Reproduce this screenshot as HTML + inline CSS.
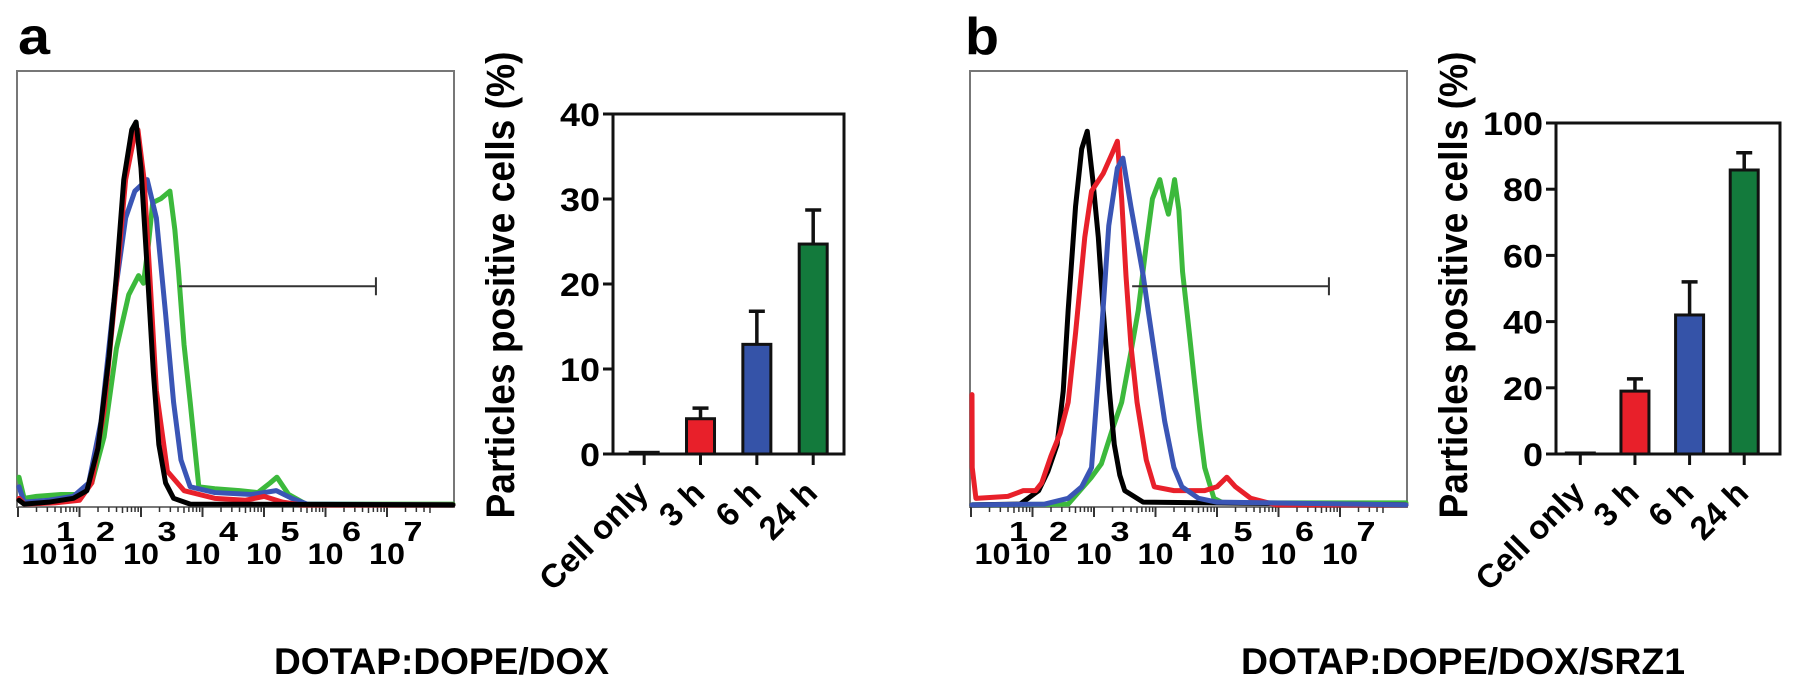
<!DOCTYPE html>
<html><head><meta charset="utf-8"><style>
html,body{margin:0;padding:0;background:#fff;}
svg{display:block;font-family:"Liberation Sans",Arial,sans-serif;}
</style></head><body>
<svg id="fig" width="1795" height="697" viewBox="0 0 1795 697" xmlns="http://www.w3.org/2000/svg">
<rect width="1795" height="697" fill="#fff"/>
<g id="root"></g>
</svg>
<script>
// ---------- data ----------
const histBlackA = [[0.98,1.5],[1.1,0.5],[1.5,1],[1.9,2],[2.12,4],[2.3,15],[2.48,39],[2.6,60],[2.72,85],[2.85,98],[2.92,100],[3.0,88],[3.1,62],[3.2,35],[3.29,16],[3.4,6],[3.53,2],[3.8,0.5],[8.1,0.3]];
const histRedA = [[0.98,2],[1.1,0.5],[1.6,0.8],[2.0,1.5],[2.2,6],[2.4,25],[2.6,58],[2.75,85],[2.9,97],[2.95,98],[3.05,85],[3.15,58],[3.25,30],[3.43,9],[3.7,4],[4.2,2],[4.7,1.5],[5.0,2.5],[5.3,1],[5.6,0.3],[8.1,0.3]];
const histBlueA = [[0.98,5],[1.1,1],[1.5,1.5],[1.9,2.5],[2.15,6],[2.35,22],[2.55,52],[2.75,75],[2.9,82],[3.1,85],[3.25,75],[3.4,50],[3.53,27],[3.65,12],[3.8,5],[4.2,3.5],[4.8,3],[5.2,4],[5.45,2],[5.7,0.5],[8.1,0.3]];
const histGreenA = [[0.98,7.5],[1.1,2],[1.3,2.5],[1.7,3],[2.0,3],[2.2,6],[2.4,18],[2.6,41],[2.8,55],[2.96,60],[3.04,58],[3.12,68],[3.19,79],[3.32,80],[3.47,82],[3.55,72],[3.61,61],[3.7,42],[3.8,27],[3.94,5],[4.2,4.5],[4.6,4],[4.9,3.5],[5.1,6],[5.21,7.5],[5.4,3],[5.68,0.5],[8.1,0.5]];
const histBlackB = [[0.98,0.3],[1.8,0.5],[2.1,4],[2.25,9],[2.4,16],[2.5,30],[2.58,51],[2.7,78],[2.8,93],[2.89,97.6],[2.98,85],[3.07,70],[3.15,51],[3.25,30],[3.33,16],[3.42,8],[3.5,4],[3.8,1],[8.1,0.3]];
const histRedB = [[0.98,29],[1.02,10],[1.08,2],[1.6,2.5],[1.85,4],[2.05,4],[2.15,6],[2.3,13],[2.45,19],[2.58,27],[2.7,45],[2.85,70],[2.96,82],[3.15,86.6],[3.3,92],[3.38,95],[3.45,80],[3.52,60],[3.6,42],[3.7,27],[3.85,12],[3.98,5],[4.3,4],[4.8,4],[5.0,5],[5.16,7.5],[5.3,5],[5.55,2],[5.96,0.3],[8.1,0.3]];
const histBlueB = [[0.98,0.3],[2.2,0.5],[2.58,2],[2.8,5],[2.96,10],[3.1,40],[3.24,73],[3.38,88],[3.47,90.6],[3.6,78],[3.7,69],[3.8,60],[3.88,51],[4.0,38],[4.15,22],[4.3,10],[4.43,5],[4.7,2],[5.0,1],[8.1,0.3]];
const histGreenB = [[0.98,0.3],[2.58,0.5],[2.96,7.5],[3.12,11],[3.3,20],[3.45,27],[3.6,40],[3.72,51],[3.85,68],[3.95,80],[4.07,85],[4.14,80],[4.21,76],[4.28,82],[4.31,85],[4.38,77],[4.44,61],[4.55,45],[4.63,33],[4.72,20],[4.8,10],[4.95,2],[5.1,0.8],[8.1,0.8]];
const decadeLabelVals = [1.35,2,3,4,5,6,7];
const decadeExps = ["1","2","3","4","5","6","7"];
const gateRange = [3.62,6.82];
const gateLevel = 57.5;

const barCategories = ["Cell only","3 h","6 h","24 h"];
const barValuesA = [0.2,4.15,12.9,24.7];
const barErrA = [0,1.25,3.9,4.0];
const barValuesB = [0.3,19,42,85.8];
const barErrB = [0,3.7,10,5.2];
const barTicksA = [0,10,20,30,40];
const barTicksB = [0,20,40,60,80,100];
const barColors = ["#ffffff","#e8202a","#3553a8","#137a3c"];

// ---------- helpers ----------
const NS="http://www.w3.org/2000/svg";
const root=document.getElementById('root');
function mk(tag,attrs,parent){const e=document.createElementNS(NS,tag);for(const k in attrs)e.setAttribute(k,attrs[k]);(parent||root).appendChild(e);return e;}

function drawHist(ox, curves, panel){
  const g=mk('g',{});
  
  
  const L=ox+17,R=ox+454,T=71,B=507;
  const xs=v=>ox+141+61.5*(v-3);
  const ys=c=>B-c*3.84;
  const fr=mk('rect',{x:L,y:T,width:R-L,height:B-T,fill:'none',stroke:'#777','stroke-width':2},g);
  
  
  for(let k=1;k<=8;k++){
    for(let m=1;m<=9;m++){
      const v=k+Math.log10(m); const x=xs(v);
      if(x<L||x>R-20) continue;
      const len=m===1?10:(m===5?6:5);
      const t=mk('line',{x1:x,y1:B,x2:x,y2:B+len,stroke:'#333','stroke-width':m===1?2:1.5},g);
      
      
    }
  }
  curves.forEach(c=>{
    const pts=c.data.map(p=>[Math.max(L+2,Math.min(R-1,xs(p[0]))),ys(p[1])-1].join(',')).join(' ');
    const pl=mk('polyline',{points:pts,fill:'none',stroke:c.color,'stroke-width':5,'stroke-linejoin':'round','stroke-linecap':'round'},g);
    
    
  });
  const gy=ys(gateLevel), gx1=xs(gateRange[0]), gx2=xs(gateRange[1]);
  const gl=mk('path',{d:`M${gx1},${gy}H${gx2}M${gx2},${gy-9}V${gy+9}`,stroke:'#333','stroke-width':2,fill:'none'},g);
  
  
  decadeLabelVals.forEach((v,i)=>{
    const x=xs(v);
    const t=mk('text',{x:x,y:564,'font-size':30,'font-weight':'bold','text-anchor':'middle',textLength:36,lengthAdjust:'spacingAndGlyphs'},g);
    t.textContent='10';
    
    
    const e=mk('text',{x:x+26,y:541,'font-size':28,'font-weight':'bold','text-anchor':'middle',textLength:19,lengthAdjust:'spacingAndGlyphs'},g);
    e.textContent=decadeExps[i];
    
    
  });
}

function drawBars(ax, rx, vals, errs, ticks, panel){
  const g=mk('g',{});
  
  
  const T=panel==='a'?114:123, B=454;
  const maxV=ticks[ticks.length-1];
  const ys=v=>B-(v/maxV)*(B-T);
  const step=(rx-ax)/4.1;
  const xc=i=>ax+step*(0.5+i)+ (panel==='a'?3:-3);
  const fr=mk('path',{d:`M${ax},${T}H${rx}V${B}H${ax}Z`,fill:'none',stroke:'#111','stroke-width':3},g);
  
  
  ticks.forEach(t=>{
    const y=ys(t);
    const l=mk('line',{x1:ax-10,y1:y,x2:ax,y2:y,stroke:'#111','stroke-width':3},g);
    
    
    const s=String(t);
    const tx=mk('text',{x:ax-13,y:y+12,'font-size':32,'font-weight':'bold','text-anchor':'end',textLength:s.length*20,lengthAdjust:'spacingAndGlyphs'},g);
    tx.textContent=s;
    
    
  });
  vals.forEach((v,i)=>{
    const x=xc(i), w=28;
    if(errs[i]>0){
      const e=mk('path',{d:`M${x},${ys(v)}V${ys(v+errs[i])}M${x-8},${ys(v+errs[i])}H${x+8}`,stroke:'#111','stroke-width':3.5,fill:'none'},g);
      
      
    }
    const r=mk('rect',{x:x-w/2,y:ys(v),width:w,height:B-ys(v),fill:barColors[i],stroke:'#111','stroke-width':3},g);
    
    
    const tk=mk('line',{x1:x,y1:B,x2:x,y2:B+11,stroke:'#111','stroke-width':3},g);
    
    
    const lb=mk('text',{x:x+6,y:495,'font-size':33,'font-weight':'bold','text-anchor':'end',transform:`rotate(-45 ${x+6} 495)`},g);
    lb.textContent=barCategories[i];
    
    
  });
  const tx=(panel==='a'?514:1467);
  const yt=mk('text',{x:tx,y:285,'font-size':40,'font-weight':'bold','text-anchor':'middle',textLength:467,lengthAdjust:'spacingAndGlyphs',transform:`rotate(-90 ${tx} 285)`},g);
  yt.textContent='Particles positive cells (%)';
  
  
}

drawHist(0,[
 {data:histGreenA,color:'#3cb93c',name:'curve-24h'},
 {data:histBlueA,color:'#3a55b5',name:'curve-6h'},
 {data:histRedA,color:'#e8202a',name:'curve-3h'},
 {data:histBlackA,color:'#000',name:'curve-cell-only'}],'a');
drawHist(953,[
 {data:histGreenB,color:'#3cb93c',name:'curve-24h'},
 {data:histBlackB,color:'#000',name:'curve-cell-only'},
 {data:histRedB,color:'#e8202a',name:'curve-3h'},
 {data:histBlueB,color:'#3a55b5',name:'curve-6h'}],'b');
drawBars(613,844,barValuesA,barErrA,barTicksA,'a');
drawBars(1556,1780,barValuesB,barErrB,barTicksB,'b');

function label(txt,x,y,size,name,len,anchor){
  const t=mk('text',{x:x,y:y,'font-size':size,'font-weight':'bold','text-anchor':anchor||'start'});
  if(len){t.setAttribute('textLength',len);t.setAttribute('lengthAdjust','spacingAndGlyphs');}
  t.textContent=txt;
  
  
}
label('a',18,54,52,'panel-label-a',32);
label('b',965,54,52,'panel-label-b',34);
label('DOTAP:DOPE/DOX',274,674,37,'caption-a',335);
label('DOTAP:DOPE/DOX/SRZ1',1241,674,37,'caption-b',444);
</script>
</body></html>
